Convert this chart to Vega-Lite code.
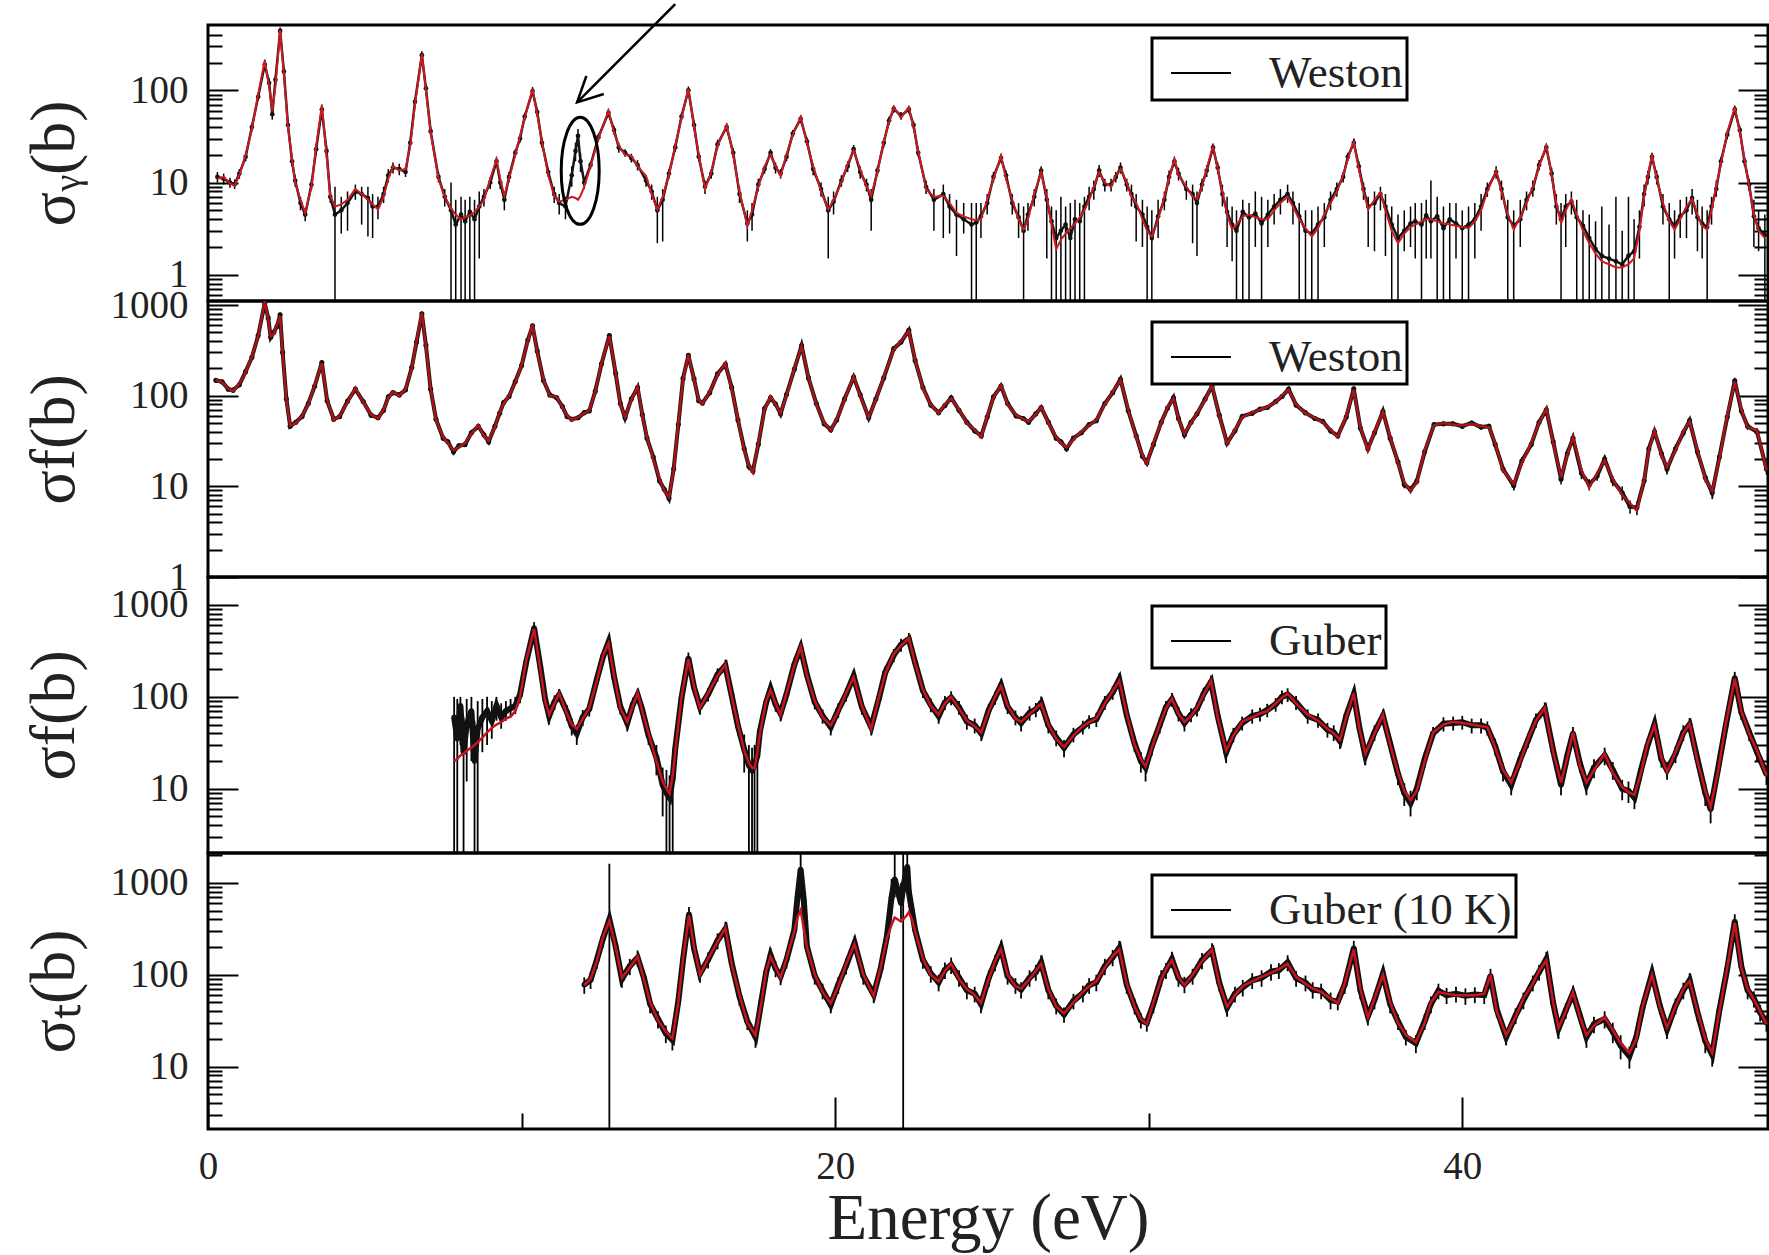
{
"$schema": "https://vega.github.io/schema/vega-lite/v6.json",
"background": "white",
"padding": {"left": 20, "top": 1, "right": 0, "bottom": 0},
"spacing": 0,
"bounds": "flush",
"resolve": {"scale": {"color": "independent"}, "legend": {"color": "independent"}},
"config": {
  "view": {"stroke": "black", "strokeWidth": 3},
  "font": "Liberation Serif",
  "axis": {"labelFont": "Liberation Serif", "titleFont": "Liberation Serif", "labelColor": "#222", "titleColor": "#222", "tickColor": "black", "tickWidth": 2, "domain": false, "grid": false, "titleFontWeight": "normal", "labelFontSize": 39, "labelFlush": false},
  "legend": {"strokeColor": "black", "strokeWidth": 3, "fillColor": "white", "padding": 4, "labelFont": "Liberation Serif", "labelFontSize": 45, "labelColor": "#222", "labelLimit": 500, "labelExpr": "datum.label + '\u2002'", "symbolType": "stroke", "symbolSize": 3600, "symbolStrokeWidth": 2, "symbolStrokeColor": "black", "labelOffset": 37, "symbolOffset": 14}
},
"datasets": {
"g": [
{"E":0.3,"f":11,"d":11.5,"l":10,"h":13},{"E":0.5,"f":11.5,"d":11,"l":9.5,"h":12.5},{"E":0.7,"f":9.8,"d":10,"l":8.8,"h":11.3},{"E":0.85,"f":9.2,"d":9.6,"l":8.5,"h":10.8},{"E":1.0,"f":12,"d":12.5,"l":11,"h":14},{"E":1.2,"f":20,"d":19,"l":17,"h":21},{"E":1.4,"f":38,"d":40,"l":36,"h":44},{"E":1.6,"f":90,"d":85,"l":77,"h":93},{"E":1.81,"f":210,"d":190,"l":170,"h":215},{"E":1.95,"f":110,"d":120,"l":105,"h":135},{"E":2.05,"f":60,"d":55,"l":48,"h":62},{"E":2.15,"f":110,"d":130,"l":115,"h":145},{"E":2.3,"f":450,"d":440,"l":400,"h":480},{"E":2.42,"f":150,"d":160,"l":145,"h":175},{"E":2.55,"f":40,"d":42,"l":37,"h":47},{"E":2.68,"f":18,"d":17,"l":15,"h":19},{"E":2.78,"f":10,"d":10.5,"l":9,"h":12},{"E":2.95,"f":6.5,"d":6,"l":5,"h":7},{"E":3.1,"f":4.7,"d":4.5,"l":3.8,"h":5.3},{"E":3.3,"f":9,"d":9.5,"l":8.3,"h":10.8},{"E":3.45,"f":25,"d":23,"l":20,"h":26},{"E":3.63,"f":68,"d":62,"l":55,"h":70},{"E":3.78,"f":20,"d":22,"l":19,"h":25},{"E":3.9,"f":7.2,"d":7,"l":6,"h":8},{"E":4.05,"f":5.5,"d":4.5,"l":0.1,"h":9},{"E":4.25,"f":5.8,"d":5,"l":2.8,"h":7},{"E":4.45,"f":6.5,"d":6,"l":3,"h":8},{"E":4.7,"f":8.5,"d":8,"l":6.5,"h":9.5},{"E":4.9,"f":7.5,"d":7.5,"l":3.5,"h":9},{"E":5.1,"f":6.5,"d":6.8,"l":2.6,"h":9},{"E":5.25,"f":5.8,"d":5.5,"l":2.5,"h":7.5},{"E":5.42,"f":5.1,"d":5.5,"l":4,"h":7},{"E":5.6,"f":7,"d":7.5,"l":6,"h":9},{"E":5.75,"f":11,"d":12,"l":10,"h":14},{"E":5.9,"f":15,"d":14.5,"l":12.5,"h":16.5},{"E":6.1,"f":13.5,"d":14,"l":12,"h":16},{"E":6.3,"f":14,"d":13,"l":11.5,"h":15},{"E":6.45,"f":25,"d":27,"l":24,"h":30},{"E":6.6,"f":70,"d":75,"l":67,"h":83},{"E":6.82,"f":247,"d":240,"l":215,"h":265},{"E":6.95,"f":100,"d":105,"l":95,"h":115},{"E":7.1,"f":35,"d":36,"l":32,"h":40},{"E":7.35,"f":11,"d":11.5,"l":10,"h":13},{"E":7.55,"f":7,"d":7,"l":5.5,"h":8.5},{"E":7.75,"f":5.2,"d":5,"l":0.1,"h":10},{"E":7.9,"f":4.5,"d":3.5,"l":0.1,"h":6.5},{"E":8.07,"f":4,"d":4.5,"l":0.1,"h":7},{"E":8.2,"f":4.2,"d":3.8,"l":0.1,"h":6.5},{"E":8.35,"f":4.4,"d":4.8,"l":0.1,"h":7},{"E":8.5,"f":4.8,"d":4,"l":0.1,"h":6.5},{"E":8.65,"f":5.5,"d":5.5,"l":1.5,"h":8},{"E":8.8,"f":6.5,"d":7,"l":5.5,"h":8.5},{"E":9.0,"f":11,"d":10,"l":8.5,"h":11.5},{"E":9.2,"f":17.8,"d":17,"l":15,"h":19},{"E":9.32,"f":11,"d":10,"l":8.5,"h":11.5},{"E":9.45,"f":7.2,"d":6.5,"l":5,"h":8},{"E":9.6,"f":11,"d":11.5,"l":10,"h":13},{"E":9.8,"f":20,"d":21,"l":19,"h":23},{"E":9.95,"f":32,"d":30,"l":27,"h":33},{"E":10.1,"f":50,"d":52,"l":47,"h":57},{"E":10.35,"f":103,"d":98,"l":88,"h":108},{"E":10.5,"f":55,"d":58,"l":52,"h":64},{"E":10.65,"f":28,"d":27,"l":24,"h":30},{"E":10.85,"f":12,"d":13,"l":11.5,"h":14.5},{"E":11.04,"f":7.2,"d":7.5,"l":6,"h":9},{"E":11.2,"f":6.2,"d":6,"l":4.5,"h":7.5},{"E":11.4,"f":6.5,"d":5.5,"l":4,"h":7},{"E":11.6,"f":7,"d":12,"l":9,"h":15},{"E":11.72,"f":6.8,"d":22,"l":17,"h":27},{"E":11.8,"f":6.5,"d":32,"l":26,"h":38},{"E":11.88,"f":7.2,"d":17,"l":13,"h":21},{"E":12.0,"f":9,"d":10,"l":8.5,"h":11.5},{"E":12.2,"f":15,"d":15.5,"l":14,"h":17},{"E":12.45,"f":30,"d":31,"l":28,"h":34},{"E":12.77,"f":60,"d":57,"l":51,"h":63},{"E":12.95,"f":35,"d":37,"l":33,"h":41},{"E":13.1,"f":25,"d":24,"l":21,"h":27},{"E":13.3,"f":20,"d":21,"l":19,"h":23},{"E":13.5,"f":19.5,"d":18.5,"l":16.5,"h":20.5},{"E":13.7,"f":15,"d":15.5,"l":13.5,"h":17.5},{"E":13.97,"f":11.8,"d":10.5,"l":9,"h":12},{"E":14.15,"f":7.5,"d":8,"l":6.5,"h":9.5},{"E":14.33,"f":5.1,"d":5,"l":2.2,"h":7},{"E":14.5,"f":7,"d":6.5,"l":2.3,"h":8.5},{"E":14.7,"f":12,"d":12.5,"l":11,"h":14},{"E":14.9,"f":25,"d":24,"l":21.5,"h":26.5},{"E":15.1,"f":50,"d":52,"l":47,"h":57},{"E":15.32,"f":103,"d":100,"l":90,"h":110},{"E":15.5,"f":40,"d":42,"l":37,"h":47},{"E":15.65,"f":20,"d":19,"l":17,"h":21},{"E":15.85,"f":8.5,"d":9,"l":7.5,"h":10.5},{"E":16.05,"f":13,"d":12.5,"l":11,"h":14},{"E":16.25,"f":25,"d":26,"l":23,"h":29},{"E":16.54,"f":41.5,"d":40,"l":36,"h":44},{"E":16.75,"f":20,"d":21,"l":18.5,"h":23.5},{"E":16.95,"f":8,"d":7.5,"l":6,"h":9},{"E":17.2,"f":3.4,"d":3.6,"l":2.3,"h":5},{"E":17.35,"f":5,"d":4.5,"l":3,"h":6},{"E":17.55,"f":9,"d":9.5,"l":8,"h":11},{"E":17.75,"f":15,"d":14,"l":12.5,"h":15.5},{"E":17.94,"f":20,"d":21,"l":19,"h":23},{"E":18.1,"f":15,"d":14.5,"l":12.5,"h":16.5},{"E":18.26,"f":11.8,"d":12.5,"l":11,"h":14},{"E":18.45,"f":20,"d":19,"l":17,"h":21},{"E":18.65,"f":33,"d":34,"l":31,"h":37},{"E":18.9,"f":51,"d":49,"l":44,"h":54},{"E":19.1,"f":27,"d":28,"l":25,"h":31},{"E":19.3,"f":15,"d":14,"l":12,"h":16},{"E":19.55,"f":8,"d":8.5,"l":7,"h":10},{"E":19.78,"f":5.1,"d":5,"l":1.5,"h":7},{"E":19.95,"f":6.5,"d":6.2,"l":4.5,"h":8},{"E":20.2,"f":10,"d":10.5,"l":9,"h":12},{"E":20.4,"f":16,"d":15,"l":13,"h":17},{"E":20.59,"f":22,"d":23,"l":20.5,"h":25.5},{"E":20.8,"f":14,"d":13,"l":11,"h":15},{"E":21.0,"f":9,"d":9.5,"l":8,"h":11},{"E":21.15,"f":7.2,"d":6.5,"l":3,"h":8.5},{"E":21.35,"f":13,"d":13.5,"l":12,"h":15},{"E":21.55,"f":28,"d":27,"l":24,"h":30},{"E":21.72,"f":45,"d":47,"l":42,"h":52},{"E":21.87,"f":65,"d":63,"l":57,"h":69},{"E":22.1,"f":51,"d":53,"l":48,"h":58},{"E":22.35,"f":65,"d":62,"l":56,"h":68},{"E":22.5,"f":40,"d":42,"l":38,"h":46},{"E":22.65,"f":22,"d":21,"l":19,"h":23},{"E":22.9,"f":8.5,"d":9,"l":7.5,"h":10.5},{"E":23.15,"f":7,"d":6.5,"l":3,"h":8.5},{"E":23.45,"f":7.2,"d":7.5,"l":2.5,"h":9.5},{"E":23.65,"f":6,"d":5.5,"l":2.8,"h":7.5},{"E":23.87,"f":4.7,"d":4.5,"l":1.6,"h":6.5},{"E":24.1,"f":4.3,"d":4,"l":2.8,"h":6},{"E":24.35,"f":4,"d":3.5,"l":0.1,"h":6},{"E":24.5,"f":3.9,"d":3.7,"l":0.1,"h":6},{"E":24.65,"f":4,"d":4.3,"l":2.5,"h":6},{"E":24.85,"f":6.5,"d":6,"l":4.5,"h":7.5},{"E":25.05,"f":11,"d":11.5,"l":10,"h":13},{"E":25.29,"f":19.5,"d":18.5,"l":16.5,"h":20.5},{"E":25.45,"f":11,"d":12,"l":10.5,"h":13.5},{"E":25.65,"f":6.5,"d":6,"l":4.5,"h":7.5},{"E":25.85,"f":4,"d":4.2,"l":2.5,"h":6},{"E":26.01,"f":3.1,"d":3,"l":0.1,"h":5.5},{"E":26.15,"f":4,"d":4.5,"l":3,"h":6},{"E":26.35,"f":7.5,"d":7,"l":5.5,"h":8.5},{"E":26.57,"f":12.9,"d":13.5,"l":12,"h":15},{"E":26.75,"f":7,"d":6.5,"l":1.5,"h":8.5},{"E":26.9,"f":3.5,"d":3.8,"l":0.1,"h":5.5},{"E":27.05,"f":1.9,"d":2.5,"l":0.1,"h":5},{"E":27.2,"f":2.4,"d":3,"l":0.1,"h":7},{"E":27.35,"f":2.8,"d":3.5,"l":0.1,"h":5.5},{"E":27.5,"f":3.2,"d":2.5,"l":0.1,"h":6},{"E":27.65,"f":3.6,"d":4,"l":0.1,"h":6.5},{"E":27.8,"f":4.2,"d":3.8,"l":0.1,"h":6},{"E":27.95,"f":5,"d":5.5,"l":0.1,"h":7},{"E":28.1,"f":6.5,"d":7,"l":5,"h":9},{"E":28.25,"f":9,"d":8.5,"l":6.5,"h":10.5},{"E":28.42,"f":12.9,"d":13.5,"l":11.5,"h":15.5},{"E":28.6,"f":10,"d":9.5,"l":8,"h":11},{"E":28.8,"f":9,"d":9.5,"l":8,"h":11},{"E":28.95,"f":12,"d":11.5,"l":10,"h":13},{"E":29.1,"f":14,"d":14.5,"l":12.5,"h":16.5},{"E":29.3,"f":10,"d":9.5,"l":8,"h":11},{"E":29.45,"f":7,"d":7.5,"l":5.5,"h":9.5},{"E":29.6,"f":6,"d":5.5,"l":2.3,"h":7.5},{"E":29.8,"f":4,"d":4.5,"l":2,"h":6.5},{"E":29.95,"f":3,"d":3.3,"l":0.1,"h":5.5},{"E":30.1,"f":2.6,"d":2.5,"l":0.1,"h":5},{"E":30.3,"f":4,"d":4.3,"l":2.5,"h":6.5},{"E":30.5,"f":7,"d":6.5,"l":5,"h":8},{"E":30.65,"f":11,"d":11.5,"l":9.5,"h":13.5},{"E":30.82,"f":17.9,"d":17,"l":15,"h":19},{"E":30.95,"f":12,"d":12.5,"l":10.5,"h":14.5},{"E":31.2,"f":9,"d":8.5,"l":6.5,"h":10.5},{"E":31.4,"f":7,"d":7.5,"l":2.2,"h":9.5},{"E":31.54,"f":6.6,"d":6,"l":1.6,"h":8},{"E":31.7,"f":9,"d":9.5,"l":8,"h":11},{"E":31.85,"f":14,"d":13.5,"l":11.5,"h":15.5},{"E":32.05,"f":25,"d":24,"l":21.5,"h":26.5},{"E":32.2,"f":14,"d":14.5,"l":12.5,"h":16.5},{"E":32.35,"f":8,"d":7.5,"l":5.5,"h":9.5},{"E":32.5,"f":4.5,"d":4.8,"l":2,"h":7},{"E":32.66,"f":3.1,"d":3.5,"l":1.4,"h":5.5},{"E":32.8,"f":3.5,"d":3,"l":0.1,"h":5},{"E":33.0,"f":4.3,"d":4.8,"l":0.1,"h":6.5},{"E":33.2,"f":4.5,"d":4.2,"l":0.1,"h":6},{"E":33.4,"f":4.2,"d":4.6,"l":2,"h":8},{"E":33.6,"f":4,"d":3.6,"l":0.1,"h":7},{"E":33.8,"f":4,"d":4.5,"l":2,"h":6.5},{"E":34.0,"f":5,"d":5.5,"l":3.5,"h":7.5},{"E":34.2,"f":6,"d":6.5,"l":4.5,"h":8.5},{"E":34.43,"f":7,"d":7.5,"l":6,"h":9.5},{"E":34.6,"f":5.5,"d":6,"l":3.5,"h":8},{"E":34.8,"f":4,"d":4.3,"l":0.1,"h":6},{"E":35.0,"f":3.2,"d":3,"l":0.1,"h":5},{"E":35.2,"f":2.6,"d":2.8,"l":0.1,"h":5},{"E":35.4,"f":3.2,"d":3.5,"l":0.1,"h":5.5},{"E":35.6,"f":4.5,"d":4.2,"l":2,"h":6},{"E":35.8,"f":6,"d":6.5,"l":5,"h":8},{"E":36.0,"f":8,"d":8.5,"l":7,"h":10},{"E":36.2,"f":12,"d":11.5,"l":10,"h":13},{"E":36.35,"f":18,"d":19,"l":17,"h":21},{"E":36.54,"f":28,"d":27,"l":24,"h":30},{"E":36.7,"f":14,"d":15,"l":13,"h":17},{"E":36.85,"f":8,"d":8.5,"l":6.5,"h":10},{"E":37.0,"f":5.1,"d":5.5,"l":2,"h":7},{"E":37.2,"f":6.5,"d":6,"l":1.8,"h":8},{"E":37.39,"f":7.8,"d":7.5,"l":5,"h":9},{"E":37.55,"f":5,"d":5.5,"l":1.6,"h":7.5},{"E":37.75,"f":3,"d":3.5,"l":0.1,"h":5.5},{"E":37.95,"f":2.2,"d":2.5,"l":0.1,"h":4.5},{"E":38.15,"f":2.8,"d":3,"l":1.8,"h":5},{"E":38.35,"f":3.3,"d":3.6,"l":2,"h":5.5},{"E":38.5,"f":3.5,"d":3.8,"l":1.5,"h":6},{"E":38.7,"f":3.8,"d":3.5,"l":0.1,"h":6},{"E":38.85,"f":4,"d":4.4,"l":1.5,"h":6.5},{"E":39.0,"f":4,"d":3.8,"l":1.5,"h":10.5},{"E":39.2,"f":3.8,"d":4.3,"l":0.1,"h":7},{"E":39.4,"f":3.6,"d":3.2,"l":0.1,"h":5.5},{"E":39.6,"f":3.5,"d":4,"l":0.1,"h":6},{"E":39.8,"f":3.4,"d":3.6,"l":1.5,"h":6},{"E":40.0,"f":3.3,"d":3.2,"l":0.1,"h":5},{"E":40.2,"f":3.2,"d":3.5,"l":0.1,"h":5.5},{"E":40.4,"f":3.8,"d":4,"l":1.5,"h":6},{"E":40.6,"f":5,"d":5.5,"l":3,"h":7.5},{"E":40.8,"f":8,"d":8.5,"l":7,"h":10},{"E":41.08,"f":13.4,"d":13,"l":11,"h":15},{"E":41.25,"f":8,"d":8.5,"l":6.5,"h":10.5},{"E":41.45,"f":4.5,"d":4.2,"l":0.1,"h":6.5},{"E":41.64,"f":3.1,"d":3.4,"l":0.1,"h":5},{"E":41.85,"f":4.2,"d":4,"l":2,"h":6.5},{"E":42.05,"f":6,"d":6.5,"l":5,"h":8},{"E":42.25,"f":9,"d":8.5,"l":7,"h":10.5},{"E":42.45,"f":15,"d":15.5,"l":13.5,"h":17.5},{"E":42.68,"f":25,"d":24,"l":21.5,"h":26.5},{"E":42.85,"f":12,"d":12.5,"l":10.5,"h":14.5},{"E":43.0,"f":6,"d":5.5,"l":3.5,"h":7.5},{"E":43.15,"f":3.6,"d":4,"l":0.1,"h":6},{"E":43.3,"f":5,"d":5.5,"l":2,"h":7.5},{"E":43.48,"f":6.6,"d":6.2,"l":4.5,"h":8},{"E":43.65,"f":4.5,"d":4.2,"l":0.1,"h":6.5},{"E":43.85,"f":3,"d":3.4,"l":0.1,"h":5},{"E":44.05,"f":2.2,"d":2.5,"l":0.1,"h":4.5},{"E":44.25,"f":1.7,"d":1.9,"l":0.1,"h":3.8},{"E":44.45,"f":1.4,"d":1.6,"l":0.1,"h":5.5},{"E":44.68,"f":1.3,"d":1.5,"l":0.1,"h":3.5},{"E":44.9,"f":1.2,"d":1.4,"l":0.1,"h":7},{"E":45.1,"f":1.2,"d":1.3,"l":0.1,"h":3},{"E":45.3,"f":1.3,"d":1.6,"l":0.1,"h":7},{"E":45.48,"f":1.5,"d":1.8,"l":0.1,"h":4},{"E":45.65,"f":3,"d":3.3,"l":1.5,"h":5},{"E":45.8,"f":7,"d":7.5,"l":5.5,"h":9.5},{"E":45.92,"f":12,"d":11.5,"l":9.5,"h":13.5},{"E":46.05,"f":20,"d":19,"l":17,"h":21},{"E":46.2,"f":11,"d":11.5,"l":9.5,"h":13.5},{"E":46.4,"f":6,"d":5.5,"l":3.5,"h":7.5},{"E":46.6,"f":3.8,"d":4,"l":0.1,"h":6},{"E":46.77,"f":3.1,"d":3.4,"l":1.5,"h":5},{"E":46.95,"f":4,"d":4.3,"l":2.5,"h":6.5},{"E":47.15,"f":5.5,"d":5,"l":2.5,"h":7},{"E":47.33,"f":6.6,"d":6.8,"l":4.5,"h":8.5},{"E":47.5,"f":4.5,"d":4.2,"l":1.8,"h":6.5},{"E":47.65,"f":3.4,"d":3.6,"l":1.5,"h":5.5},{"E":47.81,"f":3.1,"d":3.3,"l":0.1,"h":5},{"E":47.95,"f":5,"d":5.5,"l":3.5,"h":7},{"E":48.1,"f":9,"d":8.5,"l":7,"h":10.5},{"E":48.25,"f":16,"d":17,"l":15,"h":19},{"E":48.45,"f":35,"d":33,"l":29.5,"h":36.5},{"E":48.69,"f":65,"d":62,"l":56,"h":68},{"E":48.85,"f":35,"d":37,"l":33,"h":41},{"E":49.0,"f":18,"d":17,"l":15,"h":19},{"E":49.15,"f":9,"d":9.5,"l":8,"h":11},{"E":49.3,"f":4.5,"d":4.3,"l":2,"h":6.5},{"E":49.45,"f":3,"d":3.2,"l":1.8,"h":5},{"E":49.65,"f":2.5,"d":2.7,"l":0.1,"h":4.5}
],
"fw": [
{"E":0.25,"f":150,"d":148,"l":140,"h":156},{"E":0.45,"f":140,"d":142,"l":134,"h":150},{"E":0.65,"f":120,"d":118,"l":111,"h":125},{"E":0.8,"f":113,"d":115,"l":108,"h":122},{"E":1.0,"f":135,"d":132,"l":124,"h":140},{"E":1.2,"f":180,"d":184,"l":173,"h":195},{"E":1.4,"f":270,"d":265,"l":249,"h":281},{"E":1.6,"f":450,"d":460,"l":432,"h":488},{"E":1.81,"f":1100,"d":1050,"l":990,"h":1120},{"E":1.92,"f":700,"d":720,"l":677,"h":763},{"E":2.0,"f":453,"d":440,"l":414,"h":466},{"E":2.1,"f":480,"d":500,"l":470,"h":530},{"E":2.2,"f":600,"d":580,"l":545,"h":615},{"E":2.3,"f":756,"d":780,"l":733,"h":827},{"E":2.38,"f":295,"d":300,"l":282,"h":318},{"E":2.5,"f":90,"d":92,"l":86,"h":98},{"E":2.62,"f":47,"d":46,"l":43,"h":49},{"E":2.8,"f":50,"d":51,"l":48,"h":54},{"E":3.0,"f":60,"d":59,"l":55,"h":63},{"E":3.2,"f":80,"d":82,"l":77,"h":87},{"E":3.4,"f":130,"d":127,"l":119,"h":135},{"E":3.63,"f":228,"d":232,"l":218,"h":246},{"E":3.8,"f":90,"d":88,"l":83,"h":93},{"E":4.01,"f":54,"d":55,"l":52,"h":58},{"E":4.2,"f":60,"d":59,"l":55,"h":63},{"E":4.45,"f":85,"d":87,"l":82,"h":92},{"E":4.7,"f":121,"d":118,"l":111,"h":125},{"E":4.95,"f":85,"d":86,"l":81,"h":91},{"E":5.2,"f":62,"d":61,"l":57,"h":65},{"E":5.42,"f":56,"d":57,"l":54,"h":60},{"E":5.6,"f":70,"d":69,"l":65,"h":73},{"E":5.75,"f":95,"d":97,"l":91,"h":103},{"E":5.9,"f":110,"d":108,"l":102,"h":114},{"E":6.1,"f":100,"d":102,"l":96,"h":108},{"E":6.3,"f":118,"d":116,"l":109,"h":123},{"E":6.5,"f":200,"d":205,"l":193,"h":217},{"E":6.65,"f":400,"d":390,"l":367,"h":413},{"E":6.82,"f":820,"d":800,"l":750,"h":850},{"E":6.95,"f":350,"d":360,"l":338,"h":382},{"E":7.1,"f":120,"d":118,"l":111,"h":125},{"E":7.27,"f":54,"d":55,"l":52,"h":58},{"E":7.5,"f":35,"d":34,"l":32,"h":36},{"E":7.65,"f":30,"d":31,"l":29,"h":33},{"E":7.83,"f":25,"d":24,"l":22,"h":26},{"E":8.0,"f":27,"d":28,"l":26,"h":30},{"E":8.2,"f":30,"d":29,"l":27,"h":31},{"E":8.4,"f":38,"d":39,"l":36,"h":42},{"E":8.62,"f":47,"d":46,"l":43,"h":49},{"E":8.8,"f":36,"d":37,"l":34,"h":40},{"E":8.95,"f":32,"d":31,"l":29,"h":33},{"E":9.15,"f":45,"d":46,"l":43,"h":49},{"E":9.3,"f":65,"d":64,"l":60,"h":68},{"E":9.43,"f":82,"d":84,"l":79,"h":89},{"E":9.6,"f":100,"d":98,"l":92,"h":104},{"E":9.8,"f":140,"d":143,"l":134,"h":152},{"E":10.0,"f":220,"d":215,"l":202,"h":228},{"E":10.2,"f":400,"d":410,"l":385,"h":435},{"E":10.35,"f":610,"d":590,"l":555,"h":625},{"E":10.5,"f":300,"d":310,"l":291,"h":329},{"E":10.7,"f":150,"d":147,"l":138,"h":156},{"E":10.9,"f":100,"d":102,"l":96,"h":108},{"E":11.12,"f":97,"d":95,"l":89,"h":101},{"E":11.3,"f":75,"d":76,"l":71,"h":81},{"E":11.45,"f":60,"d":59,"l":55,"h":63},{"E":11.6,"f":54,"d":55,"l":52,"h":58},{"E":11.8,"f":58,"d":57,"l":54,"h":60},{"E":12.0,"f":64,"d":65,"l":61,"h":69},{"E":12.16,"f":69,"d":68,"l":64,"h":72},{"E":12.35,"f":110,"d":112,"l":105,"h":119},{"E":12.55,"f":230,"d":225,"l":211,"h":239},{"E":12.8,"f":453,"d":460,"l":432,"h":488},{"E":13.0,"f":180,"d":176,"l":165,"h":187},{"E":13.15,"f":80,"d":82,"l":77,"h":87},{"E":13.3,"f":58,"d":57,"l":54,"h":60},{"E":13.5,"f":90,"d":92,"l":86,"h":98},{"E":13.7,"f":126,"d":123,"l":116,"h":130},{"E":13.85,"f":60,"d":62,"l":58,"h":66},{"E":14.0,"f":35,"d":34,"l":32,"h":36},{"E":14.2,"f":20,"d":21,"l":19,"h":23},{"E":14.4,"f":12,"d":11.5,"l":10.5,"h":12.5},{"E":14.55,"f":9,"d":9.3,"l":8.5,"h":10.1},{"E":14.7,"f":7.6,"d":7.4,"l":6.7,"h":8.1},{"E":14.85,"f":15,"d":15.5,"l":14.3,"h":16.7},{"E":15.0,"f":50,"d":48,"l":45,"h":51},{"E":15.15,"f":150,"d":155,"l":146,"h":164},{"E":15.32,"f":283,"d":278,"l":261,"h":295},{"E":15.5,"f":150,"d":153,"l":144,"h":162},{"E":15.65,"f":90,"d":88,"l":83,"h":93},{"E":15.77,"f":82,"d":83,"l":78,"h":88},{"E":16.0,"f":110,"d":108,"l":102,"h":114},{"E":16.25,"f":170,"d":174,"l":164,"h":184},{"E":16.5,"f":228,"d":222,"l":209,"h":235},{"E":16.7,"f":120,"d":123,"l":116,"h":130},{"E":16.9,"f":55,"d":54,"l":51,"h":57},{"E":17.1,"f":25,"d":26,"l":24,"h":28},{"E":17.25,"f":17,"d":16.5,"l":15,"h":18},{"E":17.38,"f":14.3,"d":14.8,"l":13.5,"h":16.1},{"E":17.55,"f":30,"d":29,"l":27,"h":31},{"E":17.75,"f":70,"d":72,"l":68,"h":76},{"E":17.94,"f":97,"d":95,"l":89,"h":101},{"E":18.1,"f":80,"d":81,"l":76,"h":86},{"E":18.26,"f":64,"d":63,"l":59,"h":67},{"E":18.45,"f":100,"d":103,"l":97,"h":109},{"E":18.7,"f":200,"d":196,"l":184,"h":208},{"E":18.93,"f":350,"d":356,"l":335,"h":377},{"E":19.15,"f":160,"d":157,"l":148,"h":166},{"E":19.4,"f":80,"d":82,"l":77,"h":87},{"E":19.65,"f":50,"d":49,"l":46,"h":52},{"E":19.86,"f":41.5,"d":42,"l":39,"h":45},{"E":20.05,"f":55,"d":54,"l":51,"h":57},{"E":20.3,"f":90,"d":92,"l":86,"h":98},{"E":20.59,"f":163,"d":160,"l":150,"h":170},{"E":20.8,"f":100,"d":102,"l":96,"h":108},{"E":21.07,"f":58,"d":57,"l":54,"h":60},{"E":21.3,"f":90,"d":92,"l":86,"h":98},{"E":21.55,"f":160,"d":157,"l":148,"h":166},{"E":21.87,"f":322,"d":330,"l":310,"h":350},{"E":22.1,"f":400,"d":390,"l":367,"h":413},{"E":22.35,"f":515,"d":525,"l":494,"h":556},{"E":22.55,"f":250,"d":245,"l":230,"h":260},{"E":22.8,"f":120,"d":123,"l":116,"h":130},{"E":23.05,"f":80,"d":79,"l":74,"h":84},{"E":23.3,"f":64,"d":65,"l":61,"h":69},{"E":23.5,"f":80,"d":78,"l":73,"h":83},{"E":23.7,"f":93,"d":95,"l":89,"h":101},{"E":23.95,"f":70,"d":69,"l":65,"h":73},{"E":24.2,"f":50,"d":51,"l":48,"h":54},{"E":24.45,"f":42,"d":41,"l":38,"h":44},{"E":24.66,"f":35,"d":36,"l":34,"h":38},{"E":24.85,"f":60,"d":58,"l":55,"h":61},{"E":25.05,"f":95,"d":97,"l":91,"h":103},{"E":25.29,"f":131,"d":128,"l":120,"h":136},{"E":25.5,"f":80,"d":82,"l":77,"h":87},{"E":25.77,"f":61,"d":60,"l":56,"h":64},{"E":26.0,"f":55,"d":56,"l":53,"h":59},{"E":26.17,"f":52,"d":51,"l":48,"h":54},{"E":26.4,"f":62,"d":63,"l":59,"h":67},{"E":26.57,"f":75,"d":74,"l":70,"h":78},{"E":26.8,"f":50,"d":51,"l":48,"h":54},{"E":27.05,"f":35,"d":34,"l":32,"h":36},{"E":27.2,"f":30,"d":31,"l":29,"h":33},{"E":27.38,"f":27,"d":26,"l":24,"h":28},{"E":27.6,"f":33,"d":34,"l":32,"h":36},{"E":27.85,"f":40,"d":39,"l":37,"h":41},{"E":28.1,"f":47,"d":48,"l":45,"h":51},{"E":28.33,"f":54,"d":53,"l":50,"h":56},{"E":28.6,"f":80,"d":82,"l":77,"h":87},{"E":28.85,"f":110,"d":108,"l":102,"h":114},{"E":29.1,"f":149,"d":152,"l":143,"h":161},{"E":29.35,"f":70,"d":68,"l":64,"h":72},{"E":29.6,"f":35,"d":36,"l":34,"h":38},{"E":29.8,"f":22,"d":21.5,"l":20,"h":23},{"E":29.94,"f":17.7,"d":18.2,"l":17,"h":19.4},{"E":30.15,"f":30,"d":29,"l":27,"h":31},{"E":30.4,"f":50,"d":51,"l":48,"h":54},{"E":30.6,"f":75,"d":73,"l":69,"h":77},{"E":30.79,"f":93,"d":95,"l":89,"h":101},{"E":30.95,"f":55,"d":56,"l":53,"h":59},{"E":31.14,"f":38,"d":37,"l":35,"h":39},{"E":31.35,"f":50,"d":51,"l":48,"h":54},{"E":31.54,"f":64,"d":63,"l":59,"h":67},{"E":31.8,"f":90,"d":92,"l":86,"h":98},{"E":32.02,"f":131,"d":128,"l":120,"h":136},{"E":32.25,"f":60,"d":61,"l":57,"h":65},{"E":32.5,"f":29.5,"d":30,"l":28,"h":32},{"E":32.75,"f":42,"d":41,"l":38,"h":44},{"E":32.98,"f":58,"d":59,"l":55,"h":63},{"E":33.3,"f":65,"d":64,"l":60,"h":68},{"E":33.55,"f":70,"d":71,"l":67,"h":75},{"E":33.78,"f":75,"d":74,"l":70,"h":78},{"E":34.05,"f":85,"d":86,"l":81,"h":91},{"E":34.25,"f":100,"d":98,"l":92,"h":104},{"E":34.46,"f":116,"d":118,"l":111,"h":125},{"E":34.7,"f":80,"d":79,"l":74,"h":84},{"E":34.99,"f":64,"d":65,"l":61,"h":69},{"E":35.3,"f":57,"d":56,"l":53,"h":59},{"E":35.55,"f":51,"d":52,"l":49,"h":55},{"E":35.8,"f":42,"d":41,"l":38,"h":44},{"E":36.03,"f":35,"d":36,"l":34,"h":38},{"E":36.3,"f":60,"d":58,"l":55,"h":61},{"E":36.54,"f":116,"d":119,"l":112,"h":126},{"E":36.75,"f":45,"d":44,"l":41,"h":47},{"E":36.99,"f":25,"d":26,"l":24,"h":28},{"E":37.2,"f":40,"d":39,"l":37,"h":41},{"E":37.47,"f":66,"d":67,"l":63,"h":71},{"E":37.7,"f":35,"d":34,"l":32,"h":36},{"E":37.95,"f":18,"d":18.5,"l":17,"h":20},{"E":38.15,"f":11,"d":10.5,"l":9.5,"h":11.5},{"E":38.35,"f":8.9,"d":9.2,"l":8.3,"h":10.1},{"E":38.55,"f":11,"d":11.4,"l":10.4,"h":12.4},{"E":38.8,"f":25,"d":24,"l":22,"h":26},{"E":39.1,"f":47,"d":48,"l":45,"h":51},{"E":39.4,"f":50,"d":49,"l":46,"h":52},{"E":39.7,"f":48,"d":49,"l":46,"h":52},{"E":40.0,"f":47,"d":46,"l":43,"h":49},{"E":40.3,"f":49,"d":50,"l":47,"h":53},{"E":40.6,"f":46,"d":45,"l":42,"h":48},{"E":40.85,"f":45,"d":46,"l":43,"h":49},{"E":41.05,"f":30,"d":29,"l":27,"h":31},{"E":41.3,"f":15,"d":15.5,"l":14,"h":17},{"E":41.64,"f":10.6,"d":10.2,"l":9,"h":11.4},{"E":41.9,"f":18,"d":19,"l":17,"h":21},{"E":42.2,"f":30,"d":29,"l":27,"h":31},{"E":42.45,"f":50,"d":51,"l":47,"h":55},{"E":42.68,"f":72,"d":70,"l":65,"h":75},{"E":42.9,"f":30,"d":31,"l":28,"h":34},{"E":43.15,"f":12.6,"d":12,"l":10.5,"h":13.5},{"E":43.35,"f":22,"d":23,"l":20,"h":26},{"E":43.53,"f":35,"d":34,"l":31,"h":37},{"E":43.8,"f":15,"d":14,"l":12,"h":16},{"E":44.05,"f":9.7,"d":10.5,"l":9,"h":12},{"E":44.3,"f":14,"d":13,"l":11.5,"h":14.5},{"E":44.54,"f":19.3,"d":20,"l":18,"h":22},{"E":44.8,"f":12,"d":11.5,"l":10,"h":13},{"E":45.1,"f":8,"d":8.5,"l":7,"h":10},{"E":45.35,"f":6.5,"d":6,"l":5,"h":7},{"E":45.57,"f":5.4,"d":5.8,"l":4.8,"h":6.8},{"E":45.8,"f":12,"d":11.5,"l":10,"h":13},{"E":45.95,"f":25,"d":26,"l":23,"h":29},{"E":46.13,"f":41.5,"d":40,"l":36,"h":44},{"E":46.35,"f":22,"d":23,"l":20,"h":26},{"E":46.53,"f":16.3,"d":15.5,"l":13.5,"h":17.5},{"E":46.8,"f":25,"d":26,"l":23,"h":29},{"E":47.05,"f":40,"d":39,"l":35,"h":43},{"E":47.25,"f":52,"d":53,"l":48,"h":58},{"E":47.5,"f":25,"d":24,"l":21,"h":27},{"E":47.75,"f":12,"d":12.5,"l":11,"h":14},{"E":47.97,"f":8.9,"d":8.5,"l":7.2,"h":9.8},{"E":48.2,"f":20,"d":21,"l":19,"h":23},{"E":48.45,"f":60,"d":58,"l":53,"h":63},{"E":48.69,"f":143,"d":146,"l":134,"h":158},{"E":48.9,"f":70,"d":68,"l":62,"h":74},{"E":49.1,"f":45,"d":46,"l":42,"h":50},{"E":49.4,"f":41.5,"d":40,"l":36,"h":44},{"E":49.7,"f":15,"d":15.5,"l":13.5,"h":17.5}
],
"fg": [
{"E":7.85,"f":20,"d":60,"l":1,"h":100},{"E":7.95,"f":21,"d":35,"l":1,"h":95},{"E":8.05,"f":23,"d":80,"l":30,"h":100},{"E":8.15,"f":24,"d":25,"l":1,"h":60},{"E":8.25,"f":26,"d":50,"l":12,"h":95},{"E":8.4,"f":28,"d":70,"l":20,"h":100},{"E":8.5,"f":30,"d":20,"l":1,"h":55},{"E":8.6,"f":32,"d":45,"l":1,"h":90},{"E":8.75,"f":36,"d":60,"l":25,"h":95},{"E":8.9,"f":41,"d":70,"l":30,"h":100},{"E":9.05,"f":46,"d":55,"l":35,"h":90},{"E":9.2,"f":50,"d":80,"l":55,"h":100},{"E":9.35,"f":53,"d":60,"l":45,"h":85},{"E":9.5,"f":58,"d":70,"l":55,"h":90},{"E":9.65,"f":61,"d":75,"l":60,"h":95},{"E":9.8,"f":70,"d":80,"l":65,"h":100},{"E":9.95,"f":100,"d":105,"l":85,"h":125},{"E":10.15,"f":250,"d":240,"l":200,"h":290},{"E":10.4,"f":547,"d":560,"l":470,"h":650},{"E":10.6,"f":200,"d":210,"l":175,"h":245},{"E":10.75,"f":90,"d":95,"l":78,"h":112},{"E":10.88,"f":64,"d":62,"l":50,"h":74},{"E":11.05,"f":85,"d":88,"l":72,"h":104},{"E":11.2,"f":109,"d":105,"l":88,"h":122},{"E":11.45,"f":65,"d":68,"l":55,"h":81},{"E":11.6,"f":50,"d":48,"l":38,"h":58},{"E":11.76,"f":45,"d":40,"l":30,"h":50},{"E":11.95,"f":58,"d":60,"l":48,"h":72},{"E":12.16,"f":76,"d":74,"l":61,"h":87},{"E":12.4,"f":150,"d":155,"l":130,"h":180},{"E":12.6,"f":280,"d":275,"l":230,"h":320},{"E":12.77,"f":382,"d":390,"l":330,"h":450},{"E":12.95,"f":170,"d":165,"l":138,"h":192},{"E":13.15,"f":75,"d":78,"l":64,"h":92},{"E":13.37,"f":53.5,"d":52,"l":42,"h":62},{"E":13.55,"f":80,"d":83,"l":68,"h":98},{"E":13.7,"f":109,"d":105,"l":87,"h":123},{"E":13.85,"f":70,"d":72,"l":58,"h":86},{"E":14.05,"f":40,"d":38,"l":30,"h":46},{"E":14.3,"f":20,"d":22,"l":14,"h":30},{"E":14.5,"f":12,"d":11,"l":5,"h":17},{"E":14.62,"f":10,"d":9,"l":1,"h":16},{"E":14.72,"f":8.9,"d":8,"l":1,"h":14},{"E":14.82,"f":14,"d":13,"l":1,"h":20},{"E":14.9,"f":25,"d":27,"l":18,"h":36},{"E":15.1,"f":100,"d":97,"l":80,"h":114},{"E":15.32,"f":256,"d":262,"l":220,"h":304},{"E":15.5,"f":130,"d":127,"l":106,"h":148},{"E":15.69,"f":76,"d":78,"l":64,"h":92},{"E":15.95,"f":110,"d":107,"l":89,"h":125},{"E":16.25,"f":170,"d":175,"l":146,"h":204},{"E":16.5,"f":224,"d":218,"l":182,"h":254},{"E":16.7,"f":100,"d":104,"l":86,"h":122},{"E":16.9,"f":50,"d":48,"l":38,"h":58},{"E":17.1,"f":26,"d":27,"l":15,"h":39},{"E":17.25,"f":19,"d":18,"l":1,"h":30},{"E":17.35,"f":17,"d":16,"l":1,"h":28},{"E":17.43,"f":16.7,"d":18,"l":1,"h":30},{"E":17.52,"f":25,"d":23,"l":1,"h":35},{"E":17.6,"f":40,"d":42,"l":30,"h":54},{"E":17.8,"f":90,"d":87,"l":72,"h":102},{"E":17.94,"f":119,"d":122,"l":102,"h":142},{"E":18.1,"f":85,"d":83,"l":69,"h":97},{"E":18.26,"f":64,"d":66,"l":54,"h":78},{"E":18.45,"f":110,"d":107,"l":89,"h":125},{"E":18.7,"f":220,"d":225,"l":188,"h":262},{"E":18.9,"f":349,"d":340,"l":285,"h":395},{"E":19.1,"f":170,"d":174,"l":145,"h":203},{"E":19.35,"f":90,"d":88,"l":73,"h":103},{"E":19.6,"f":60,"d":62,"l":51,"h":73},{"E":19.86,"f":49,"d":47,"l":38,"h":56},{"E":20.1,"f":70,"d":72,"l":59,"h":85},{"E":20.35,"f":110,"d":107,"l":89,"h":125},{"E":20.59,"f":163,"d":168,"l":140,"h":196},{"E":20.85,"f":80,"d":78,"l":64,"h":92},{"E":21.15,"f":45,"d":47,"l":38,"h":56},{"E":21.4,"f":100,"d":97,"l":80,"h":114},{"E":21.6,"f":180,"d":185,"l":154,"h":216},{"E":21.87,"f":293,"d":285,"l":238,"h":332},{"E":22.1,"f":360,"d":370,"l":310,"h":430},{"E":22.35,"f":437,"d":425,"l":355,"h":495},{"E":22.55,"f":230,"d":237,"l":198,"h":276},{"E":22.8,"f":120,"d":117,"l":97,"h":137},{"E":23.05,"f":80,"d":82,"l":68,"h":96},{"E":23.3,"f":64,"d":62,"l":51,"h":73},{"E":23.5,"f":85,"d":87,"l":72,"h":102},{"E":23.7,"f":100,"d":98,"l":81,"h":115},{"E":23.95,"f":75,"d":77,"l":64,"h":90},{"E":24.2,"f":55,"d":54,"l":44,"h":64},{"E":24.45,"f":48,"d":49,"l":40,"h":58},{"E":24.66,"f":41,"d":40,"l":33,"h":47},{"E":24.9,"f":70,"d":72,"l":60,"h":84},{"E":25.1,"f":100,"d":98,"l":82,"h":114},{"E":25.29,"f":131,"d":134,"l":112,"h":156},{"E":25.5,"f":80,"d":78,"l":65,"h":91},{"E":25.75,"f":58,"d":60,"l":49,"h":71},{"E":25.93,"f":53.5,"d":52,"l":42,"h":62},{"E":26.2,"f":65,"d":67,"l":55,"h":79},{"E":26.4,"f":75,"d":73,"l":60,"h":86},{"E":26.57,"f":84,"d":86,"l":71,"h":101},{"E":26.8,"f":50,"d":49,"l":40,"h":58},{"E":27.05,"f":35,"d":36,"l":29,"h":43},{"E":27.3,"f":28.6,"d":28,"l":22,"h":34},{"E":27.6,"f":38,"d":39,"l":32,"h":46},{"E":27.9,"f":48,"d":47,"l":39,"h":55},{"E":28.1,"f":53,"d":54,"l":45,"h":63},{"E":28.33,"f":58.5,"d":57,"l":47,"h":67},{"E":28.6,"f":85,"d":87,"l":72,"h":102},{"E":28.85,"f":115,"d":112,"l":93,"h":131},{"E":29.06,"f":150,"d":154,"l":128,"h":180},{"E":29.3,"f":65,"d":63,"l":52,"h":74},{"E":29.55,"f":30,"d":31,"l":25,"h":37},{"E":29.75,"f":21,"d":20,"l":15,"h":25},{"E":29.9,"f":17.5,"d":17,"l":12,"h":22},{"E":30.1,"f":28,"d":29,"l":23,"h":35},{"E":30.35,"f":50,"d":49,"l":40,"h":58},{"E":30.55,"f":75,"d":77,"l":64,"h":90},{"E":30.74,"f":96,"d":94,"l":78,"h":110},{"E":30.95,"f":65,"d":66,"l":54,"h":78},{"E":31.14,"f":53.5,"d":52,"l":42,"h":62},{"E":31.35,"f":62,"d":64,"l":53,"h":75},{"E":31.54,"f":76,"d":74,"l":61,"h":87},{"E":31.75,"f":105,"d":108,"l":90,"h":126},{"E":31.99,"f":150,"d":146,"l":121,"h":171},{"E":32.2,"f":60,"d":62,"l":51,"h":73},{"E":32.47,"f":26,"d":25,"l":19,"h":31},{"E":32.7,"f":38,"d":39,"l":32,"h":46},{"E":32.98,"f":53.5,"d":52,"l":43,"h":61},{"E":33.3,"f":60,"d":62,"l":51,"h":73},{"E":33.55,"f":66,"d":65,"l":54,"h":76},{"E":33.78,"f":70,"d":72,"l":60,"h":84},{"E":34.05,"f":85,"d":83,"l":69,"h":97},{"E":34.25,"f":98,"d":100,"l":83,"h":117},{"E":34.43,"f":109,"d":106,"l":88,"h":124},{"E":34.7,"f":85,"d":87,"l":72,"h":102},{"E":35.07,"f":64,"d":62,"l":51,"h":73},{"E":35.4,"f":55,"d":56,"l":46,"h":66},{"E":35.7,"f":45,"d":44,"l":36,"h":52},{"E":35.9,"f":40,"d":41,"l":33,"h":49},{"E":36.1,"f":34,"d":33,"l":27,"h":39},{"E":36.3,"f":60,"d":62,"l":51,"h":73},{"E":36.54,"f":109,"d":106,"l":88,"h":124},{"E":36.72,"f":45,"d":46,"l":38,"h":54},{"E":36.91,"f":24,"d":23,"l":18,"h":28},{"E":37.2,"f":40,"d":41,"l":33,"h":49},{"E":37.47,"f":64,"d":62,"l":51,"h":73},{"E":37.7,"f":30,"d":31,"l":25,"h":37},{"E":37.95,"f":15,"d":14.5,"l":11,"h":18},{"E":38.15,"f":9.5,"d":9,"l":6.5,"h":11.5},{"E":38.35,"f":7.5,"d":7,"l":5,"h":9.5},{"E":38.55,"f":9.5,"d":10,"l":7.5,"h":12.5},{"E":38.8,"f":20,"d":21,"l":17,"h":25},{"E":39.07,"f":41,"d":40,"l":33,"h":47},{"E":39.4,"f":50,"d":51,"l":42,"h":60},{"E":39.71,"f":53.5,"d":52,"l":43,"h":61},{"E":40.0,"f":52,"d":53,"l":44,"h":62},{"E":40.3,"f":50,"d":49,"l":40,"h":58},{"E":40.6,"f":48,"d":49,"l":40,"h":58},{"E":40.8,"f":47,"d":46,"l":38,"h":54},{"E":41.05,"f":28,"d":29,"l":23,"h":35},{"E":41.3,"f":16,"d":15.5,"l":12,"h":19},{"E":41.56,"f":11.7,"d":11,"l":8.5,"h":13.5},{"E":41.85,"f":20,"d":21,"l":17,"h":25},{"E":42.1,"f":35,"d":34,"l":28,"h":40},{"E":42.35,"f":55,"d":56,"l":46,"h":66},{"E":42.63,"f":76,"d":74,"l":61,"h":87},{"E":42.9,"f":25,"d":26,"l":21,"h":31},{"E":43.15,"f":11.7,"d":11,"l":8.5,"h":13.5},{"E":43.35,"f":22,"d":23,"l":18,"h":28},{"E":43.53,"f":41,"d":40,"l":33,"h":47},{"E":43.75,"f":18,"d":19,"l":15,"h":23},{"E":43.96,"f":11.7,"d":11,"l":8.5,"h":13.5},{"E":44.2,"f":16,"d":17,"l":13,"h":21},{"E":44.54,"f":24,"d":23,"l":18,"h":28},{"E":44.8,"f":15,"d":16,"l":12.5,"h":19.5},{"E":45.1,"f":10.5,"d":10,"l":7.5,"h":12.5},{"E":45.3,"f":9.2,"d":9.5,"l":7,"h":12},{"E":45.49,"f":8.6,"d":8,"l":6,"h":10},{"E":45.7,"f":15,"d":16,"l":12.5,"h":19.5},{"E":45.9,"f":30,"d":29,"l":23,"h":35},{"E":46.13,"f":49,"d":50,"l":41,"h":59},{"E":46.35,"f":22,"d":21,"l":17,"h":25},{"E":46.53,"f":15.3,"d":16,"l":12.5,"h":19.5},{"E":46.8,"f":25,"d":24,"l":19,"h":29},{"E":47.05,"f":40,"d":41,"l":33,"h":49},{"E":47.25,"f":51,"d":50,"l":41,"h":59},{"E":47.5,"f":20,"d":21,"l":17,"h":25},{"E":47.75,"f":9.5,"d":9,"l":6.5,"h":11.5},{"E":47.92,"f":6.3,"d":6,"l":4.2,"h":7.8},{"E":48.15,"f":15,"d":16,"l":12.5,"h":19.5},{"E":48.4,"f":50,"d":48,"l":39,"h":57},{"E":48.69,"f":157,"d":160,"l":133,"h":187},{"E":48.9,"f":70,"d":68,"l":56,"h":80},{"E":49.15,"f":40,"d":41,"l":33,"h":49},{"E":49.4,"f":26,"d":25,"l":20,"h":30},{"E":49.7,"f":14,"d":14.5,"l":11,"h":18}
],
"t": [
{"E":12.0,"f":77,"d":78,"l":62,"h":94},{"E":12.2,"f":90,"d":88,"l":70,"h":106},{"E":12.4,"f":140,"d":145,"l":116,"h":174},{"E":12.6,"f":260,"d":250,"l":200,"h":300},{"E":12.8,"f":387,"d":400,"l":1,"h":1620},{"E":13.0,"f":200,"d":205,"l":164,"h":246},{"E":13.2,"f":93,"d":90,"l":72,"h":108},{"E":13.45,"f":120,"d":124,"l":99,"h":149},{"E":13.7,"f":158,"d":153,"l":122,"h":184},{"E":13.9,"f":90,"d":93,"l":74,"h":112},{"E":14.1,"f":50,"d":48,"l":38,"h":58},{"E":14.35,"f":32,"d":33,"l":26,"h":40},{"E":14.6,"f":24,"d":23,"l":18,"h":28},{"E":14.81,"f":20.3,"d":19.5,"l":15,"h":24},{"E":15.0,"f":50,"d":52,"l":42,"h":62},{"E":15.15,"f":150,"d":145,"l":116,"h":174},{"E":15.34,"f":442,"d":455,"l":364,"h":546},{"E":15.5,"f":200,"d":195,"l":156,"h":234},{"E":15.69,"f":100,"d":103,"l":82,"h":124},{"E":15.95,"f":150,"d":146,"l":117,"h":175},{"E":16.25,"f":230,"d":236,"l":189,"h":283},{"E":16.5,"f":324,"d":315,"l":252,"h":378},{"E":16.7,"f":130,"d":134,"l":107,"h":161},{"E":16.95,"f":60,"d":58,"l":46,"h":70},{"E":17.2,"f":30,"d":31,"l":25,"h":37},{"E":17.46,"f":22,"d":21,"l":16,"h":26},{"E":17.65,"f":50,"d":52,"l":42,"h":62},{"E":17.8,"f":110,"d":106,"l":85,"h":127},{"E":17.94,"f":158,"d":163,"l":130,"h":196},{"E":18.1,"f":120,"d":117,"l":94,"h":140},{"E":18.26,"f":93,"d":96,"l":77,"h":115},{"E":18.45,"f":150,"d":146,"l":117,"h":175},{"E":18.7,"f":300,"d":310,"l":248,"h":372},{"E":18.8,"f":420,"d":700,"l":450,"h":1000},{"E":18.9,"f":506,"d":1400,"l":800,"h":2600},{"E":19.0,"f":320,"d":650,"l":420,"h":950},{"E":19.1,"f":200,"d":205,"l":164,"h":246},{"E":19.35,"f":100,"d":97,"l":78,"h":116},{"E":19.6,"f":65,"d":67,"l":54,"h":80},{"E":19.86,"f":49,"d":47,"l":38,"h":56},{"E":20.1,"f":75,"d":78,"l":62,"h":94},{"E":20.35,"f":130,"d":126,"l":101,"h":151},{"E":20.62,"f":216,"d":222,"l":178,"h":266},{"E":20.9,"f":100,"d":97,"l":78,"h":116},{"E":21.23,"f":59,"d":61,"l":49,"h":73},{"E":21.45,"f":120,"d":116,"l":93,"h":139},{"E":21.65,"f":250,"d":260,"l":208,"h":312},{"E":21.8,"f":350,"d":700,"l":450,"h":1100},{"E":21.9,"f":420,"d":1100,"l":700,"h":2600},{"E":22.1,"f":380,"d":600,"l":400,"h":1000},{"E":22.17,"f":400,"d":900,"l":1,"h":2600},{"E":22.3,"f":450,"d":1500,"l":900,"h":2600},{"E":22.35,"f":480,"d":800,"l":550,"h":1200},{"E":22.45,"f":400,"d":500,"l":380,"h":700},{"E":22.55,"f":300,"d":310,"l":248,"h":372},{"E":22.8,"f":150,"d":145,"l":116,"h":174},{"E":23.05,"f":100,"d":103,"l":82,"h":124},{"E":23.3,"f":85,"d":83,"l":66,"h":100},{"E":23.5,"f":110,"d":113,"l":90,"h":136},{"E":23.7,"f":132,"d":128,"l":102,"h":154},{"E":23.95,"f":90,"d":93,"l":74,"h":112},{"E":24.2,"f":70,"d":68,"l":54,"h":82},{"E":24.45,"f":60,"d":62,"l":50,"h":74},{"E":24.65,"f":49.5,"d":48,"l":38,"h":58},{"E":24.9,"f":90,"d":93,"l":74,"h":112},{"E":25.1,"f":140,"d":136,"l":109,"h":163},{"E":25.29,"f":189,"d":195,"l":156,"h":234},{"E":25.5,"f":100,"d":97,"l":78,"h":116},{"E":25.75,"f":75,"d":77,"l":62,"h":92},{"E":25.93,"f":71,"d":69,"l":55,"h":83},{"E":26.2,"f":90,"d":93,"l":74,"h":112},{"E":26.4,"f":110,"d":107,"l":86,"h":128},{"E":26.57,"f":132,"d":136,"l":109,"h":163},{"E":26.8,"f":70,"d":68,"l":54,"h":82},{"E":27.05,"f":45,"d":46,"l":37,"h":55},{"E":27.3,"f":38,"d":37,"l":30,"h":44},{"E":27.6,"f":50,"d":52,"l":42,"h":62},{"E":27.9,"f":65,"d":63,"l":50,"h":76},{"E":28.1,"f":75,"d":77,"l":62,"h":92},{"E":28.33,"f":85,"d":83,"l":66,"h":100},{"E":28.6,"f":120,"d":124,"l":99,"h":149},{"E":28.85,"f":160,"d":155,"l":124,"h":186},{"E":29.06,"f":189,"d":195,"l":156,"h":234},{"E":29.3,"f":80,"d":78,"l":62,"h":94},{"E":29.55,"f":45,"d":46,"l":37,"h":55},{"E":29.75,"f":33,"d":32,"l":26,"h":38},{"E":29.94,"f":29,"d":30,"l":24,"h":36},{"E":30.15,"f":50,"d":48,"l":38,"h":58},{"E":30.4,"f":90,"d":93,"l":74,"h":112},{"E":30.55,"f":115,"d":112,"l":90,"h":134},{"E":30.74,"f":144,"d":148,"l":118,"h":178},{"E":30.95,"f":95,"d":92,"l":74,"h":110},{"E":31.14,"f":77,"d":79,"l":63,"h":95},{"E":31.4,"f":100,"d":97,"l":78,"h":116},{"E":31.7,"f":140,"d":144,"l":115,"h":173},{"E":32.02,"f":189,"d":184,"l":147,"h":221},{"E":32.25,"f":80,"d":82,"l":66,"h":98},{"E":32.5,"f":45,"d":44,"l":35,"h":53},{"E":32.75,"f":60,"d":62,"l":50,"h":74},{"E":33.0,"f":75,"d":73,"l":58,"h":88},{"E":33.3,"f":85,"d":87,"l":70,"h":104},{"E":33.6,"f":95,"d":93,"l":74,"h":112},{"E":33.9,"f":105,"d":108,"l":86,"h":130},{"E":34.15,"f":115,"d":112,"l":90,"h":134},{"E":34.43,"f":132,"d":136,"l":109,"h":163},{"E":34.7,"f":95,"d":92,"l":74,"h":110},{"E":35.0,"f":80,"d":82,"l":66,"h":98},{"E":35.23,"f":71,"d":69,"l":55,"h":83},{"E":35.5,"f":65,"d":67,"l":54,"h":80},{"E":35.8,"f":55,"d":53,"l":42,"h":64},{"E":36.03,"f":49.5,"d":51,"l":41,"h":61},{"E":36.25,"f":80,"d":78,"l":62,"h":94},{"E":36.54,"f":189,"d":195,"l":156,"h":234},{"E":36.75,"f":70,"d":68,"l":54,"h":82},{"E":36.99,"f":34.5,"d":35.5,"l":28,"h":43},{"E":37.2,"f":55,"d":53,"l":42,"h":64},{"E":37.47,"f":100,"d":103,"l":82,"h":124},{"E":37.7,"f":50,"d":48,"l":38,"h":58},{"E":37.95,"f":30,"d":31,"l":25,"h":37},{"E":38.2,"f":22,"d":21,"l":17,"h":25},{"E":38.52,"f":18.5,"d":18,"l":14,"h":22},{"E":38.8,"f":30,"d":31,"l":25,"h":37},{"E":39.0,"f":50,"d":48,"l":38,"h":58},{"E":39.24,"f":65,"d":67,"l":54,"h":80},{"E":39.5,"f":62,"d":60,"l":48,"h":72},{"E":39.8,"f":60,"d":62,"l":50,"h":74},{"E":40.1,"f":60,"d":59,"l":47,"h":71},{"E":40.4,"f":60,"d":61,"l":49,"h":73},{"E":40.7,"f":62,"d":60,"l":48,"h":72},{"E":40.9,"f":100,"d":97,"l":78,"h":116},{"E":41.1,"f":40,"d":42,"l":34,"h":50},{"E":41.4,"f":22,"d":21,"l":17,"h":25},{"E":41.7,"f":35,"d":36,"l":29,"h":43},{"E":41.95,"f":55,"d":53,"l":42,"h":64},{"E":42.25,"f":80,"d":82,"l":66,"h":98},{"E":42.45,"f":110,"d":107,"l":86,"h":128},{"E":42.68,"f":144,"d":148,"l":118,"h":178},{"E":42.9,"f":50,"d":49,"l":39,"h":59},{"E":43.07,"f":26.5,"d":26,"l":20,"h":32},{"E":43.3,"f":40,"d":41,"l":33,"h":49},{"E":43.53,"f":65,"d":63,"l":50,"h":76},{"E":43.75,"f":35,"d":36,"l":29,"h":43},{"E":43.96,"f":22,"d":21,"l":16,"h":26},{"E":44.2,"f":28,"d":29,"l":23,"h":35},{"E":44.54,"f":34.5,"d":33,"l":26,"h":40},{"E":44.8,"f":25,"d":24,"l":18,"h":30},{"E":45.05,"f":18,"d":17,"l":12,"h":22},{"E":45.33,"f":14.1,"d":13,"l":9.5,"h":16.5},{"E":45.55,"f":20,"d":21,"l":16,"h":26},{"E":45.75,"f":45,"d":44,"l":35,"h":53},{"E":46.05,"f":100,"d":103,"l":82,"h":124},{"E":46.3,"f":45,"d":46,"l":37,"h":55},{"E":46.53,"f":26.5,"d":25.5,"l":20,"h":31},{"E":46.8,"f":45,"d":46,"l":37,"h":55},{"E":47.05,"f":70,"d":68,"l":54,"h":82},{"E":47.25,"f":85,"d":87,"l":70,"h":104},{"E":47.5,"f":40,"d":39,"l":31,"h":47},{"E":47.75,"f":20,"d":19,"l":14,"h":24},{"E":47.97,"f":14.1,"d":13.5,"l":10,"h":17},{"E":48.2,"f":40,"d":41,"l":33,"h":49},{"E":48.45,"f":120,"d":116,"l":93,"h":139},{"E":48.69,"f":369,"d":380,"l":304,"h":456},{"E":48.9,"f":120,"d":123,"l":98,"h":148},{"E":49.1,"f":70,"d":68,"l":54,"h":82},{"E":49.3,"f":54,"d":55,"l":44,"h":66},{"E":49.5,"f":40,"d":39,"l":31,"h":47},{"E":49.7,"f":29,"d":30,"l":24,"h":36}
]
},
"vconcat": [
{
  "width": 1560, "height": 276,
  "resolve": {"axis": {"y": "independent"}},
  "layer": [
    {"data": {"name": "g"}, "mark": {"type": "rule", "strokeWidth": 1.5, "clip": true},
     "encoding": {
       "x": {"field": "E", "type": "quantitative", "scale": {"domain": [0, 49.75], "nice": false, "zero": false}, "axis": null},
       "y": {"field": "l", "type": "quantitative", "scale": {"type": "log", "domain": [0.52, 510], "nice": false},
             "axis": {"orient": "left", "values": [0.6,0.7,0.8,0.9,1,2,3,4,5,6,7,8,9,10,20,30,40,50,60,70,80,90,100,200,300,400],
                      "labelExpr": "indexof([1,10,100,1000], datum.value) >= 0 ? '' + datum.value : ''",
                      "tickSize": {"condition": {"test": "indexof([1,10,100,1000], datum.value) >= 0", "value": -30}, "value": -14},
                      "labelPadding": 50, "title": "σᵧ(b)", "titleFontSize": 64, "titleX": -186, "titleBaseline": "top"}},
       "y2": {"field": "h"},
       "color": {"datum": "Weston", "type": "nominal", "scale": {"range": ["black"]}, "legend": {"orient": "none", "legendX": 944, "legendY": 13, "title": null}}
     }},
    {"data": {"name": "g"}, "mark": {"type": "line", "color": "#151515", "strokeWidth": 2.5, "clip": true},
     "encoding": {
       "x": {"field": "E", "type": "quantitative", "scale": {"domain": [0, 49.75], "nice": false, "zero": false}, "axis": null},
       "y": {"field": "d", "type": "quantitative", "scale": {"type": "log", "domain": [0.52, 510], "nice": false}, "axis": null}
     }},
    {"data": {"name": "g"}, "mark": {"type": "point", "filled": true, "size": 22, "color": "#111", "opacity": 1, "clip": true},
     "encoding": {
       "x": {"field": "E", "type": "quantitative", "scale": {"domain": [0, 49.75], "nice": false, "zero": false}, "axis": null},
       "y": {"field": "d", "type": "quantitative", "scale": {"type": "log", "domain": [0.52, 510], "nice": false},
             "axis": {"orient": "right", "values": [0.6,0.7,0.8,0.9,1,2,3,4,5,6,7,8,9,10,20,30,40,50,60,70,80,90,100,200,300,400], "labels": false, "title": null,
                      "tickSize": {"condition": {"test": "indexof([1,10,100,1000], datum.value) >= 0", "value": -30}, "value": -14}}}
     }},
    {"data": {"name": "g"}, "mark": {"type": "line", "color": "#cc1a22", "strokeWidth": 2, "clip": true},
     "encoding": {
       "x": {"field": "E", "type": "quantitative", "scale": {"domain": [0, 49.75], "nice": false, "zero": false}, "axis": null},
       "y": {"field": "f", "type": "quantitative", "scale": {"type": "log", "domain": [0.52, 510], "nice": false}, "axis": null}
     }},
    {"data": {"values": [{"E": 14.9, "s": 861, "E2": 11.77, "s2": 74}]}, "mark": {"type": "rule", "color": "black", "strokeWidth": 2.5, "clip": false},
     "encoding": {
       "x": {"field": "E", "type": "quantitative", "scale": {"domain": [0, 49.75], "nice": false, "zero": false}, "axis": null},
       "x2": {"field": "E2"},
       "y": {"field": "s", "type": "quantitative", "scale": {"type": "log", "domain": [0.52, 510], "nice": false}, "axis": null},
       "y2": {"field": "s2"}
     }},
    {"data": {"values": [{"E": 11.77, "s": 74}]}, "mark": {"type": "point", "shape": "M -0.5 -1 L 0 0 L 0.5 -1", "filled": false, "size": 2500, "angle": 46, "color": "black", "strokeWidth": 2.5, "opacity": 1, "clip": false},
     "encoding": {
       "x": {"field": "E", "type": "quantitative", "scale": {"domain": [0, 49.75], "nice": false, "zero": false}, "axis": null},
       "y": {"field": "s", "type": "quantitative", "scale": {"type": "log", "domain": [0.52, 510], "nice": false}, "axis": null}
     }},
    {"data": {"values": [{"E": 11.87, "s": 13.4}]}, "mark": {"type": "point", "shape": "M -0.355 0 A 0.355 1 0 1 0 0.355 0 A 0.355 1 0 1 0 -0.355 0", "filled": false, "size": 11449, "color": "black", "strokeWidth": 3, "opacity": 1, "clip": false},
     "encoding": {
       "x": {"field": "E", "type": "quantitative", "scale": {"domain": [0, 49.75], "nice": false, "zero": false}, "axis": null},
       "y": {"field": "s", "type": "quantitative", "scale": {"type": "log", "domain": [0.52, 510], "nice": false}, "axis": null}
     }}
  ]
},
{
  "width": 1560, "height": 276,
  "resolve": {"axis": {"y": "independent"}},
  "layer": [
    {"data": {"name": "fw"}, "mark": {"type": "rule", "strokeWidth": 1.5, "clip": true},
     "encoding": {
       "x": {"field": "E", "type": "quantitative", "scale": {"domain": [0, 49.75], "nice": false, "zero": false}, "axis": null},
       "y": {"field": "l", "type": "quantitative", "scale": {"type": "log", "domain": [1, 1107], "nice": false},
             "axis": {"orient": "left", "values": [1,2,3,4,5,6,7,8,9,10,20,30,40,50,60,70,80,90,100,200,300,400,500,600,700,800,900,1000],
                      "labelExpr": "indexof([1,10,100,1000], datum.value) >= 0 ? '' + datum.value : ''",
                      "tickSize": {"condition": {"test": "indexof([1,10,100,1000], datum.value) >= 0", "value": -30}, "value": -14},
                      "labelPadding": 50, "title": "σf(b)", "titleFontSize": 64, "titleX": -186, "titleBaseline": "top"}},
       "y2": {"field": "h"},
       "color": {"datum": "Weston", "type": "nominal", "scale": {"range": ["black"]}, "legend": {"orient": "none", "legendX": 944, "legendY": 21, "title": null}}
     }},
    {"data": {"name": "fw"}, "mark": {"type": "line", "color": "#151515", "strokeWidth": 4, "clip": true},
     "encoding": {
       "x": {"field": "E", "type": "quantitative", "scale": {"domain": [0, 49.75], "nice": false, "zero": false}, "axis": null},
       "y": {"field": "d", "type": "quantitative", "scale": {"type": "log", "domain": [1, 1107], "nice": false}, "axis": null}
     }},
    {"data": {"name": "fw"}, "mark": {"type": "point", "filled": true, "size": 26, "color": "#111", "opacity": 1, "clip": true},
     "encoding": {
       "x": {"field": "E", "type": "quantitative", "scale": {"domain": [0, 49.75], "nice": false, "zero": false}, "axis": null},
       "y": {"field": "d", "type": "quantitative", "scale": {"type": "log", "domain": [1, 1107], "nice": false},
             "axis": {"orient": "right", "values": [1,2,3,4,5,6,7,8,9,10,20,30,40,50,60,70,80,90,100,200,300,400,500,600,700,800,900,1000], "labels": false, "title": null,
                      "tickSize": {"condition": {"test": "indexof([1,10,100,1000], datum.value) >= 0", "value": -30}, "value": -14}}}
     }},
    {"data": {"name": "fw"}, "mark": {"type": "line", "color": "#a81418", "strokeWidth": 2.5, "clip": true},
     "encoding": {
       "x": {"field": "E", "type": "quantitative", "scale": {"domain": [0, 49.75], "nice": false, "zero": false}, "axis": null},
       "y": {"field": "f", "type": "quantitative", "scale": {"type": "log", "domain": [1, 1107], "nice": false}, "axis": null}
     }}
  ]
},
{
  "width": 1560, "height": 276,
  "resolve": {"axis": {"y": "independent"}},
  "layer": [
    {"data": {"name": "fg"}, "mark": {"type": "rule", "strokeWidth": 1.8, "clip": true},
     "encoding": {
       "x": {"field": "E", "type": "quantitative", "scale": {"domain": [0, 49.75], "nice": false, "zero": false}, "axis": null},
       "y": {"field": "l", "type": "quantitative", "scale": {"type": "log", "domain": [2.0, 2015], "nice": false},
             "axis": {"orient": "left", "values": [3,4,5,6,7,8,9,10,20,30,40,50,60,70,80,90,100,200,300,400,500,600,700,800,900,1000],
                      "labelExpr": "indexof([1,10,100,1000], datum.value) >= 0 ? '' + datum.value : ''",
                      "tickSize": {"condition": {"test": "indexof([1,10,100,1000], datum.value) >= 0", "value": -30}, "value": -14},
                      "labelPadding": 50, "title": "σf(b)", "titleFontSize": 64, "titleX": -186, "titleBaseline": "top"}},
       "y2": {"field": "h"},
       "color": {"datum": "Guber", "type": "nominal", "scale": {"range": ["black"]}, "legend": {"orient": "none", "legendX": 944, "legendY": 29, "title": null}}
     }},
    {"data": {"name": "fg"}, "mark": {"type": "line", "color": "#111", "strokeWidth": 6, "clip": true},
     "encoding": {
       "x": {"field": "E", "type": "quantitative", "scale": {"domain": [0, 49.75], "nice": false, "zero": false}, "axis": null},
       "y": {"field": "d", "type": "quantitative", "scale": {"type": "log", "domain": [2.0, 2015], "nice": false}, "axis": null}
     }},
    {"data": {"name": "fg"}, "mark": {"type": "point", "filled": true, "size": 30, "color": "#111", "opacity": 1, "clip": true},
     "encoding": {
       "x": {"field": "E", "type": "quantitative", "scale": {"domain": [0, 49.75], "nice": false, "zero": false}, "axis": null},
       "y": {"field": "d", "type": "quantitative", "scale": {"type": "log", "domain": [2.0, 2015], "nice": false},
             "axis": {"orient": "right", "values": [3,4,5,6,7,8,9,10,20,30,40,50,60,70,80,90,100,200,300,400,500,600,700,800,900,1000], "labels": false, "title": null,
                      "tickSize": {"condition": {"test": "indexof([1,10,100,1000], datum.value) >= 0", "value": -30}, "value": -14}}}
     }},
    {"data": {"name": "fg"}, "mark": {"type": "line", "color": "#c8141e", "strokeWidth": 2.5, "clip": true},
     "encoding": {
       "x": {"field": "E", "type": "quantitative", "scale": {"domain": [0, 49.75], "nice": false, "zero": false}, "axis": null},
       "y": {"field": "f", "type": "quantitative", "scale": {"type": "log", "domain": [2.0, 2015], "nice": false}, "axis": null}
     }}
  ]
},
{
  "width": 1560, "height": 276,
  "resolve": {"axis": {"y": "independent"}},
  "layer": [
    {"data": {"name": "t"}, "mark": {"type": "rule", "strokeWidth": 1.8, "clip": true},
     "encoding": {
       "x": {"field": "E", "type": "quantitative", "scale": {"domain": [0, 49.75], "nice": false, "zero": false},
             "axis": {"orient": "bottom", "values": [0, 10, 20, 30, 40],
                      "labelExpr": "datum.value % 20 == 0 ? '' + datum.value : ''",
                      "tickSize": {"condition": {"test": "datum.value % 20 == 0", "value": -32}, "value": -16},
                      "labelPadding": 50, "title": "Energy (eV)", "titleFontSize": 65, "titleY": 58, "titleBaseline": "top"}},
       "y": {"field": "l", "type": "quantitative", "scale": {"type": "log", "domain": [2.09, 2120], "nice": false},
             "axis": {"orient": "left", "values": [3,4,5,6,7,8,9,10,20,30,40,50,60,70,80,90,100,200,300,400,500,600,700,800,900,1000,2000],
                      "labelExpr": "indexof([1,10,100,1000], datum.value) >= 0 ? '' + datum.value : ''",
                      "tickSize": {"condition": {"test": "indexof([1,10,100,1000], datum.value) >= 0", "value": -30}, "value": -14},
                      "labelPadding": 50, "title": "σₜ(b)", "titleFontSize": 64, "titleX": -186, "titleBaseline": "top"}},
       "y2": {"field": "h"},
       "color": {"datum": "Guber (10 K)", "type": "nominal", "scale": {"range": ["black"]}, "legend": {"orient": "none", "legendX": 944, "legendY": 22, "title": null}}
     }},
    {"data": {"name": "t"}, "mark": {"type": "line", "color": "#111", "strokeWidth": 6, "clip": true},
     "encoding": {
       "x": {"field": "E", "type": "quantitative", "scale": {"domain": [0, 49.75], "nice": false, "zero": false}},
       "y": {"field": "d", "type": "quantitative", "scale": {"type": "log", "domain": [2.09, 2120], "nice": false}, "axis": null}
     }},
    {"data": {"name": "t"}, "mark": {"type": "point", "filled": true, "size": 30, "color": "#111", "opacity": 1, "clip": true},
     "encoding": {
       "x": {"field": "E", "type": "quantitative", "scale": {"domain": [0, 49.75], "nice": false, "zero": false}},
       "y": {"field": "d", "type": "quantitative", "scale": {"type": "log", "domain": [2.09, 2120], "nice": false},
             "axis": {"orient": "right", "values": [3,4,5,6,7,8,9,10,20,30,40,50,60,70,80,90,100,200,300,400,500,600,700,800,900,1000,2000], "labels": false, "title": null,
                      "tickSize": {"condition": {"test": "indexof([1,10,100,1000], datum.value) >= 0", "value": -30}, "value": -14}}}
     }},
    {"data": {"name": "t"}, "mark": {"type": "line", "color": "#c8141e", "strokeWidth": 2.5, "clip": true},
     "encoding": {
       "x": {"field": "E", "type": "quantitative", "scale": {"domain": [0, 49.75], "nice": false, "zero": false}},
       "y": {"field": "f", "type": "quantitative", "scale": {"type": "log", "domain": [2.09, 2120], "nice": false}, "axis": null}
     }}
  ]
}
]
}
